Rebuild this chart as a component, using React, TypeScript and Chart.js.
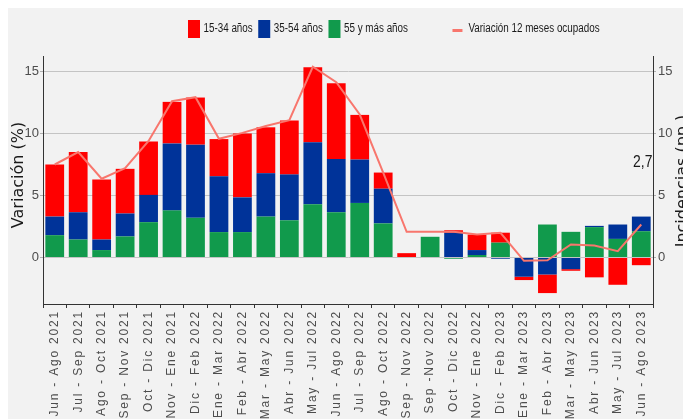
import { useEffect, useRef } from "react";
import { Chart, registerables } from "chart.js";

Chart.register(...registerables);

const categories = [
  "Jun - Ago 2021", "Jul - Sep 2021", "Ago - Oct 2021", "Sep - Nov 2021", "Oct - Dic 2021",
  "Nov - Ene 2021", "Dic - Feb 2022", "Ene - Mar 2022", "Feb - Abr 2022", "Mar - May 2022",
  "Abr - Jun 2022", "May - Jul 2022", "Jun - Ago 2022", "Jul - Sep 2022", "Ago - Oct 2022",
  "Sep - Nov 2022", "Sep -Nov 2022", "Oct - Dic 2022", "Nov - Ene 2022", "Dic - Feb 2023",
  "Ene - Mar 2023", "Feb - Abr 2023", "Mar - May 2023", "Abr - Jun 2023", "May - Jul 2023",
  "Jun - Ago 2023",
];

const age15to34 = [4.2, 4.85, 4.85, 3.6, 4.3, 3.35, 3.8, 3.0, 5.15, 3.7, 4.35, 6.05, 6.1, 3.6, 1.3, 0.35, 0, 0.2, 1.25, 0.8, -0.27, -1.5, -0.13, -1.6, -2.2, -0.62];
const age35to54 = [1.5, 2.2, 0.85, 1.85, 2.2, 5.4, 5.9, 4.5, 2.8, 3.5, 3.7, 5.0, 4.3, 3.5, 2.8, 0, 0, 2.0, 0.4, -0.1, -1.55, -1.37, -0.94, 0.1, 1.16, 1.18];
const age55plus = [1.8, 1.45, 0.6, 1.7, 2.85, 3.8, 3.2, 2.05, 2.05, 3.3, 3.0, 4.3, 3.65, 4.4, 2.75, 0, 1.67, -0.1, 0.2, 1.2, 0, 2.66, 2.07, 2.45, 1.5, 2.12];
const variation12m = [7.5, 8.5, 6.35, 7.2, 9.4, 12.6, 12.93, 9.57, 10.05, 10.6, 11.08, 15.38, 14.14, 11.53, 6.85, 2.07, 2.07, 2.07, 1.85, 1.99, -0.27, -0.22, 1.05, 0.97, 0.51, 2.66];

const yTickValues = [0, 5, 10, 15];
const lastValueLabel = "2,7";
const leftTitle = "Variación (%)";
const rightTitle = "Incidencias (pp.)";

const RED = "#ff0000";
const BLUE = "#003399";
const GREEN = "#119a4c";
const LINE = "#f8766d";

const SANS = '"Liberation Sans", Arial, sans-serif';
const WIDE = '"DejaVu Sans", Verdana, sans-serif';
const SQUEEZE = 0.82;

export default function App() {
  const ref = useRef<HTMLCanvasElement>(null);

  useEffect(() => {
    const canvas = ref.current;
    if (!canvas) return;

    const narrowText = (ctx: CanvasRenderingContext2D, text: string, x: number, y: number) => {
      ctx.save();
      ctx.translate(x, y);
      ctx.scale(SQUEEZE, 1);
      ctx.fillText(text, 0, 0);
      ctx.restore();
    };

    const decor = {
      id: "decor",
      beforeDraw(chart: any) {
        (chart.ctx as any).letterSpacing = "1.8px";
      },
      beforeDatasetsDraw(chart: any) {
        (chart.ctx as any).letterSpacing = "0px";
      },
      afterDraw(chart: any) {
        const ctx = chart.ctx as CanvasRenderingContext2D;
        (ctx as any).letterSpacing = "0px";
        const xs = chart.scales.x;
        const ys = chart.scales.y;

        // legend
        ctx.save();
        ctx.font = `12px ${SANS}`;
        ctx.textBaseline = "middle";
        ctx.textAlign = "left";
        const ds = chart.data.datasets;
        const barItems = [ds[3], ds[2], ds[1]];
        let x = 180;
        const cy = 21;
        for (const d of barItems) {
          ctx.fillStyle = d.backgroundColor as string;
          ctx.fillRect(x, 12, 12, 18);
          x += 15.5;
          ctx.fillStyle = "#1a1a1a";
          narrowText(ctx, d.label as string, x, cy);
          x += ctx.measureText(d.label as string).width * SQUEEZE + 5.5;
        }
        const lx = x + 39;
        ctx.strokeStyle = LINE;
        ctx.lineWidth = 3;
        ctx.beginPath();
        ctx.moveTo(lx, cy + 1.5);
        ctx.lineTo(lx + 10, cy + 1.5);
        ctx.stroke();
        ctx.fillStyle = "#1a1a1a";
        narrowText(ctx, ds[0].label as string, lx + 16, cy);
        ctx.restore();

        // axis titles
        ctx.save();
        ctx.font = `16px ${WIDE}`;
        ctx.fillStyle = "#1a1a1a";
        ctx.textAlign = "center";
        ctx.textBaseline = "alphabetic";
        ctx.translate(15.4, 167);
        ctx.rotate(-Math.PI / 2);
        ctx.fillText(leftTitle, 0, 0);
        ctx.restore();

        ctx.save();
        ctx.font = `16px ${WIDE}`;
        ctx.fillStyle = "#1a1a1a";
        ctx.textAlign = "center";
        ctx.textBaseline = "alphabetic";
        ctx.translate(678.7, 173);
        ctx.rotate(-Math.PI / 2);
        ctx.fillText(rightTitle, 0, 0);
        ctx.restore();

        // last value label
        const li = variation12m.length - 1;
        ctx.save();
        ctx.font = `17px ${SANS}`;
        ctx.fillStyle = "#1a1a1a";
        ctx.textAlign = "center";
        ctx.textBaseline = "alphabetic";
        narrowText(ctx, lastValueLabel, xs.getPixelForValue(li) + 1.5, ys.getPixelForValue(variation12m[li]) - 58);
        ctx.restore();
      },
    };

    const fixTicks = (s: any) => {
      s.ticks = yTickValues.map((v) => ({ value: v }));
    };

    const chart = new Chart(canvas, {
      type: "bar",
      data: {
        labels: categories,
        datasets: [
          {
            type: "line",
            label: "Variación 12 meses ocupados",
            data: variation12m,
            yAxisID: "y2",
            borderColor: LINE,
            backgroundColor: LINE,
            borderWidth: 2,
            pointRadius: 0,
            tension: 0,
            order: 0,
          } as any,
          { label: "55 y más años", data: age55plus, backgroundColor: GREEN, yAxisID: "y", stack: "s", order: 1 },
          { label: "35-54 años", data: age35to54, backgroundColor: BLUE, yAxisID: "y", stack: "s", order: 1 },
          { label: "15-34 años", data: age15to34, backgroundColor: RED, yAxisID: "y", stack: "s", order: 1 },
        ],
      },
      options: {
        responsive: false,
        animation: false,
        layout: { padding: { top: 48, left: 0, right: 0, bottom: 0 } },
        plugins: { legend: { display: false }, tooltip: { enabled: false }, title: { display: false } },
        datasets: { bar: { barPercentage: 0.8, categoryPercentage: 1 } } as any,
        scales: {
          x: {
            stacked: true,
            grid: { drawOnChartArea: false, tickLength: 4, tickColor: "#333333", tickWidth: 1 },
            border: { color: "#333333", width: 1 },
            ticks: {
              autoSkip: false,
              minRotation: 90,
              maxRotation: 90,
              padding: 2,
              color: "#4d4d4d",
              font: { family: SANS, size: 12 },
            },
            afterFit: (s: any) => {
              s.height = 115;
            },
          },
          y: {
            stacked: true,
            min: -3.75,
            max: 16.25,
            afterBuildTicks: fixTicks,
            grid: { color: "#c4c4c4", lineWidth: 1, tickLength: 3, tickColor: "#b0b0b0" },
            border: { color: "#333333", width: 1 },
            ticks: { z: 1, padding: 1, color: "#4d4d4d", font: { family: SANS, size: 13 } },
            afterFit: (s: any) => {
              s.width = 35;
            },
          },
          y2: {
            position: "right",
            min: -3.75,
            max: 16.25,
            afterBuildTicks: fixTicks,
            grid: { drawOnChartArea: false, tickLength: 3, tickColor: "#b0b0b0" },
            border: { color: "#333333", width: 1 },
            ticks: { z: 1, padding: 2, color: "#4d4d4d", font: { family: SANS, size: 13 } },
            afterFit: (s: any) => {
              s.width = 30;
            },
          },
        } as any,
      },
      plugins: [decor],
    });

    return () => {
      chart.destroy();
    };
  }, []);

  return (
    <div
      style={{
        position: "fixed",
        left: 8,
        top: 8,
        right: 0,
        bottom: 0,
        background: "#f2f2f2",
        overflow: "hidden",
      }}
    >
      <canvas ref={ref} width={675} height={411} style={{ display: "block" }} />
    </div>
  );
}
